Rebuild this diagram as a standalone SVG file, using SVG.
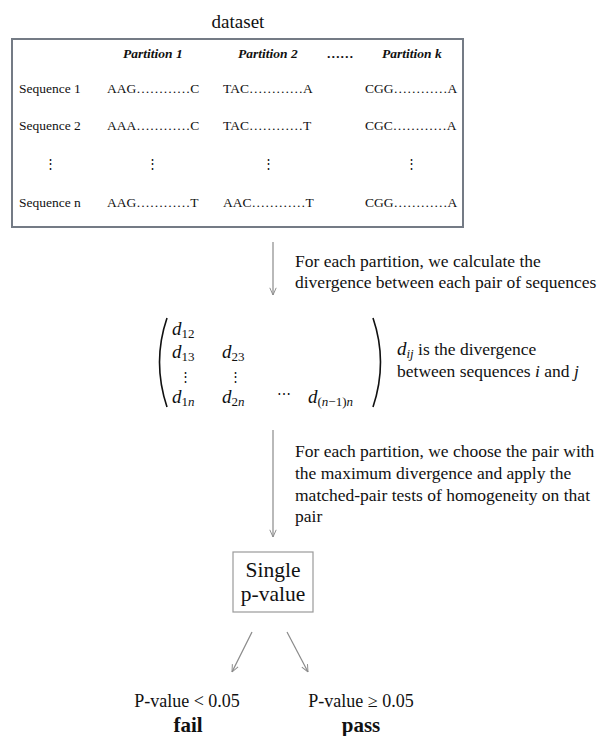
<svg xmlns="http://www.w3.org/2000/svg" width="600" height="736" viewBox="0 0 600 736">
<style>
text{font-family:"Liberation Serif","Times New Roman",serif;fill:#111}
.tb{font-size:13.5px}
.hd{font-size:13.5px;font-weight:bold;font-style:italic}
.vd{font-size:13px;font-family:"DejaVu Serif",serif;text-anchor:middle}
.para{font-size:17.5px}
.m{font-size:19px;font-style:italic}
.sub{font-size:13px;font-style:normal}
.subi{font-size:13px;font-style:italic}
.conn{stroke:#8a8a8a;stroke-width:1.2;fill:none}
</style>
<defs>
<marker id="ah" viewBox="0 0 10 10" refX="10" refY="5" markerWidth="8" markerHeight="8" markerUnits="userSpaceOnUse" orient="auto">
<path d="M1,1 L10,5 L1,9" fill="none" stroke="#8a8a8a" stroke-width="1.2"/>
</marker>
</defs>
<rect width="600" height="736" fill="#fff"/>

<g id="dataset">
<text x="238" y="28" text-anchor="middle" style="font-size:19px">dataset</text>
<rect x="12" y="39" width="451" height="188" fill="none" stroke="#747b85" stroke-width="2"/>
<text class="hd" x="123" y="58">Partition 1</text>
<text class="hd" x="238" y="58">Partition 2</text>
<text class="hd" x="327" y="58">……</text>
<text class="hd" x="382" y="58">Partition k</text>
<text class="tb" x="19" y="93">Sequence 1</text>
<text class="tb" x="107" y="93">AAG…………C</text>
<text class="tb" x="223" y="93">TAC…………A</text>
<text class="tb" x="365" y="93">CGG…………A</text>
<text class="tb" x="19" y="130">Sequence 2</text>
<text class="tb" x="107" y="130">AAA…………C</text>
<text class="tb" x="223" y="130">TAC…………T</text>
<text class="tb" x="365" y="130">CGC…………A</text>
<text class="vd" x="50" y="168">⋮</text>
<text class="vd" x="152" y="168">⋮</text>
<text class="vd" x="268" y="168">⋮</text>
<text class="vd" x="411" y="168">⋮</text>
<text class="tb" x="19" y="207">Sequence n</text>
<text class="tb" x="107" y="207">AAG…………T</text>
<text class="tb" x="223" y="207">AAC…………T</text>
<text class="tb" x="365" y="207">CGG…………A</text>
</g>

<g id="step1-label">
<text class="para" x="295" y="267">For each partition, we calculate the</text>
<text class="para" x="295" y="288">divergence between each pair of sequences</text>
</g>

<g id="matrix">
<path d="M167,318 Q152,362 167,407" fill="none" stroke="#111" stroke-width="1.6"/>
<path d="M373,318 Q388,362 373,407" fill="none" stroke="#111" stroke-width="1.6"/>
<text class="m" x="172" y="335">d<tspan class="sub" dy="3">12</tspan></text>
<text class="m" x="172" y="358">d<tspan class="sub" dy="3">13</tspan></text>
<text class="m" x="222" y="358">d<tspan class="sub" dy="3">23</tspan></text>
<text class="vd" x="185" y="381">⋮</text>
<text class="vd" x="235" y="381">⋮</text>
<text class="m" x="172" y="403">d<tspan class="sub" dy="3">1</tspan><tspan class="subi">n</tspan></text>
<text class="m" x="222" y="403">d<tspan class="sub" dy="3">2</tspan><tspan class="subi">n</tspan></text>
<text x="284" y="399" text-anchor="middle" style="font-size:14px;font-family:'DejaVu Serif',serif">⋯</text>
<text class="m" x="308" y="403">d<tspan class="sub" dy="3">(</tspan><tspan class="subi">n</tspan><tspan class="sub">−1)</tspan><tspan class="subi">n</tspan></text>
</g>

<g id="matrix-label">
<text class="para" x="397" y="355"><tspan style="font-style:italic;font-size:19px">d</tspan><tspan class="subi" dy="3">ij</tspan><tspan dy="-3"> is the divergence</tspan></text>
<text class="para" x="397" y="377">between sequences <tspan font-style="italic">i</tspan> and <tspan font-style="italic">j</tspan></text>
</g>

<g id="step2-label">
<text class="para" x="295" y="457">For each partition, we choose the pair with</text>
<text class="para" x="295" y="479">the maximum divergence and apply the</text>
<text class="para" x="295" y="501">matched-pair tests of homogeneity on that</text>
<text class="para" x="295" y="522">pair</text>
</g>

<g id="pvalue">
<rect x="233" y="552" width="80" height="60" fill="#fff" stroke="#9a9a9a" stroke-width="1.2"/>
<text x="273" y="577" text-anchor="middle" style="font-size:21.5px">Single</text>
<text x="273" y="601" text-anchor="middle" style="font-size:21.5px">p-value</text>
</g>

<g id="fail">
<text x="187" y="707" text-anchor="middle" style="font-size:18px">P-value &lt; 0.05</text>
<text x="188" y="732" text-anchor="middle" style="font-size:21px;font-weight:bold">fail</text>
</g>

<g id="pass">
<text x="361" y="707" text-anchor="middle" style="font-size:18px">P-value ≥ 0.05</text>
<text x="361" y="732" text-anchor="middle" style="font-size:21px;font-weight:bold">pass</text>
</g>

<g id="connectors">
<line class="conn" x1="273" y1="242" x2="273" y2="295" marker-end="url(#ah)"/>
<line class="conn" x1="273" y1="430" x2="273" y2="537" marker-end="url(#ah)"/>
<line class="conn" x1="252" y1="632" x2="232" y2="672" marker-end="url(#ah)"/>
<line class="conn" x1="287" y1="632" x2="308" y2="672" marker-end="url(#ah)"/>
</g>
</svg>
